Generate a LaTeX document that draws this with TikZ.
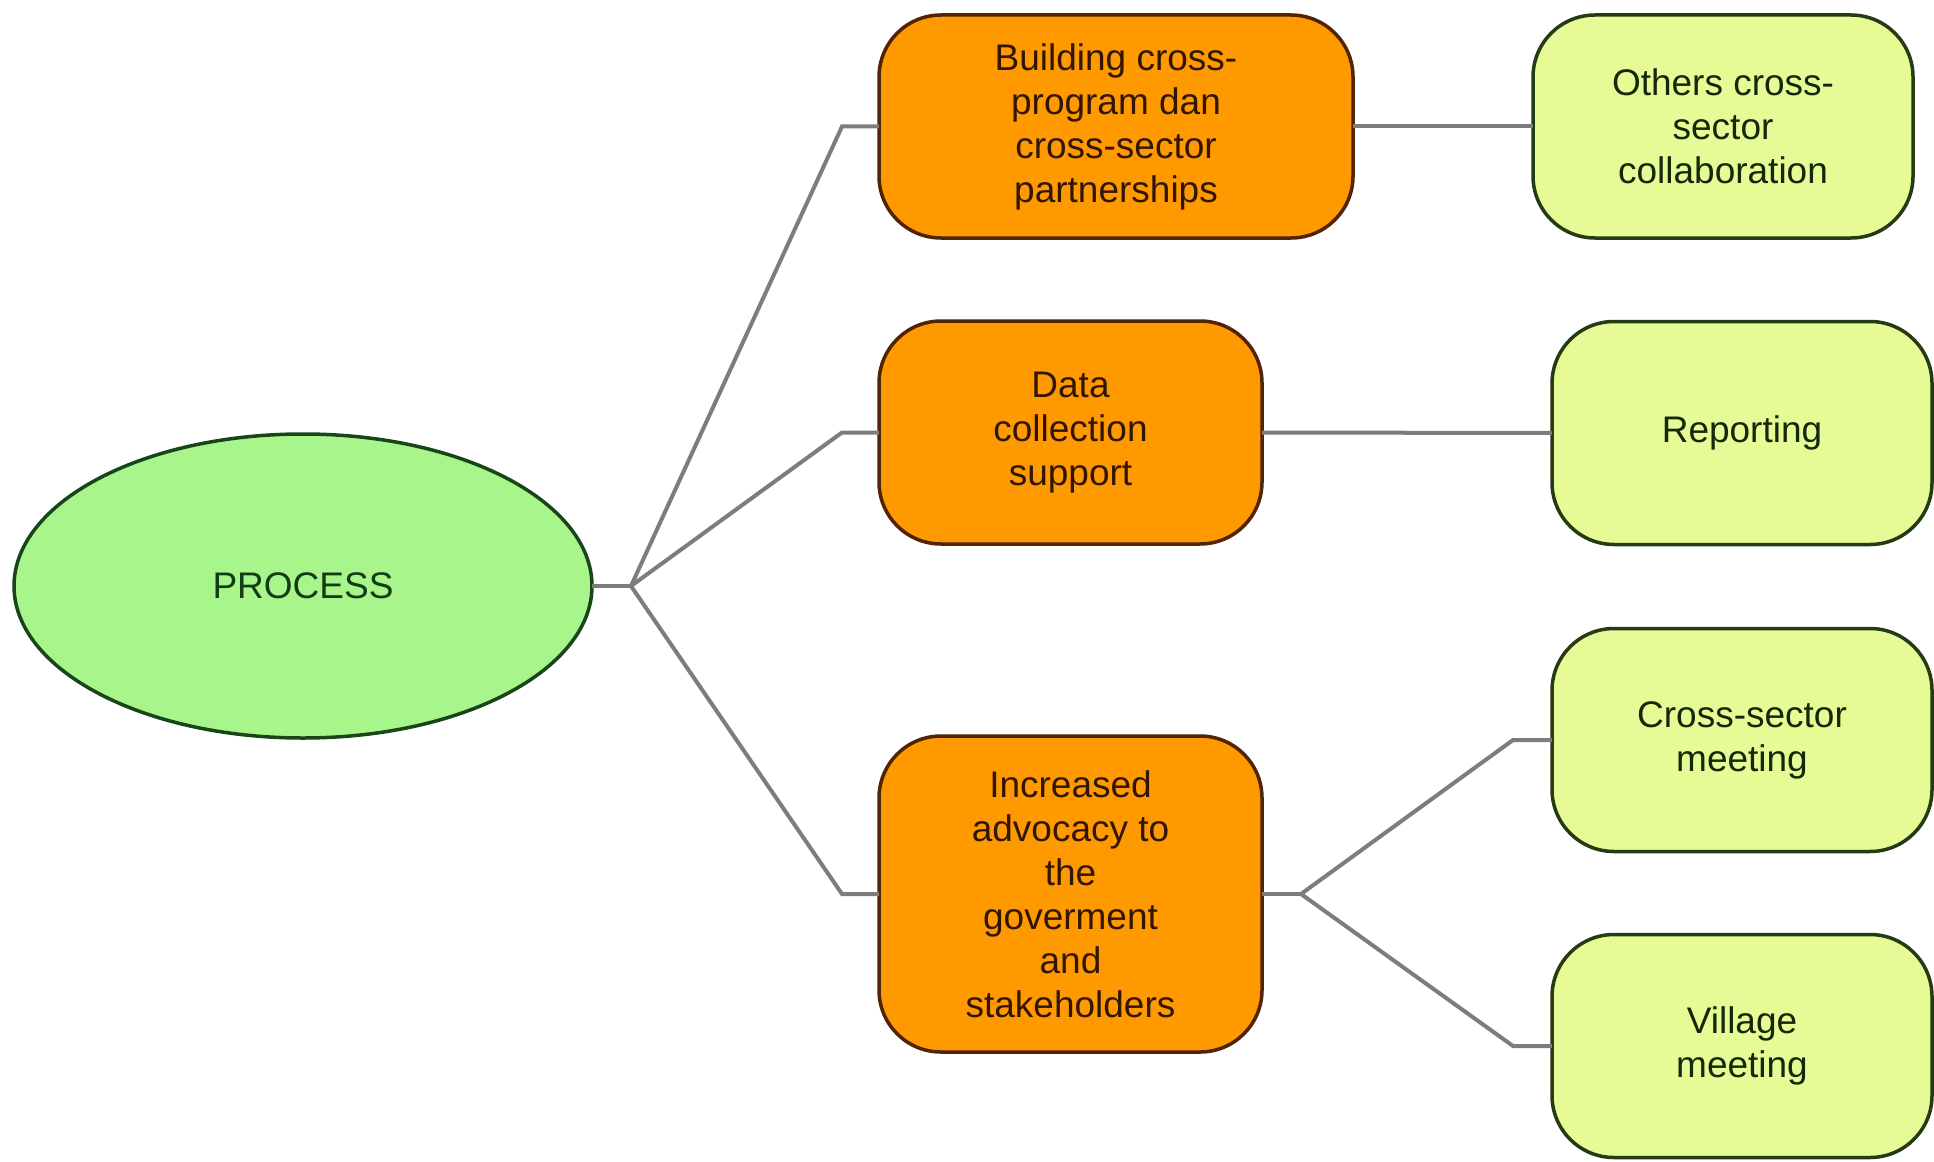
\documentclass[tikz,border=0pt]{standalone}
\usepackage{fontspec}
\setmainfont{Liberation Sans}
\usetikzlibrary{shapes.geometric}
\definecolor{orfill}{RGB}{255,153,0}
\definecolor{ordraw}{RGB}{80,36,5}
\definecolor{ortext}{RGB}{50,22,5}
\definecolor{grfill}{RGB}{230,250,150}
\definecolor{grdraw}{RGB}{35,60,20}
\definecolor{grtext}{RGB}{20,40,10}
\definecolor{elfill}{RGB}{168,245,140}
\definecolor{eldraw}{RGB}{25,70,25}
\definecolor{eltext}{RGB}{20,60,20}
\definecolor{conn}{RGB}{125,125,125}
\begin{document}
\begin{tikzpicture}[x=1pt,y=-1pt,
  every node/.style={font=\fontsize{37}{44}\selectfont, align=center, inner sep=0pt, outer sep=0pt},
  orbox/.style={draw=ordraw, fill=orfill, text=ortext, line width=3.5pt, rectangle, rounded corners=62pt, minimum height=223pt},
  grbox/.style={draw=grdraw, fill=grfill, text=grtext, line width=3.5pt, rectangle, rounded corners=62pt, minimum width=380pt, minimum height=223pt},
  procshape/.style={draw=eldraw, fill=elfill, text=eltext, line width=3.5pt, ellipse, minimum width=578pt, minimum height=304pt},
  link/.style={draw=conn, line width=4pt}]
\useasboundingbox (0,0) rectangle (1934,1161);
\fill[white] (0,0) rectangle (1934,1161);
\node[procshape] (proc) at (303,586) {PROCESS};
\node[orbox, minimum width=474pt] (b1) at (1116,126.5) {Building cross-\\program dan\\cross-sector\\partnerships};
\node[orbox, minimum width=383pt] (b2) at (1070.5,432.5) {Data\\collection\\support};
\node[orbox, minimum width=383pt, minimum height=316pt] (b3) at (1070.5,894) {Increased\\advocacy to\\the\\goverment\\and\\stakeholders};
\node[grbox] (g1) at (1723,126.5) {Others cross-\\sector\\collaboration};
\node[grbox] (g2) at (1742,433) {Reporting};
\node[grbox] (g3) at (1742,740) {Cross-sector\\meeting};
\node[grbox] (g4) at (1742,1046) {Village\\meeting};
\coordinate (j1) at (631,586);
\coordinate (j2) at (1301,894);
\draw[link] (proc.east) -- (j1);
\draw[link] (j1) -- ([xshift=-37pt]b1.west) -- (b1.west);
\draw[link] (j1) -- ([xshift=-37pt]b2.west) -- (b2.west);
\draw[link] (j1) -- ([xshift=-37pt]b3.west) -- (b3.west);
\draw[link] (b1.east) -- (g1.west);
\draw[link] (b2.east) -- (g2.west);
\draw[link] (b3.east) -- (j2);
\draw[link] (j2) -- ([xshift=-39pt]g3.west) -- (g3.west);
\draw[link] (j2) -- ([xshift=-39pt]g4.west) -- (g4.west);
\end{tikzpicture}
\end{document}
